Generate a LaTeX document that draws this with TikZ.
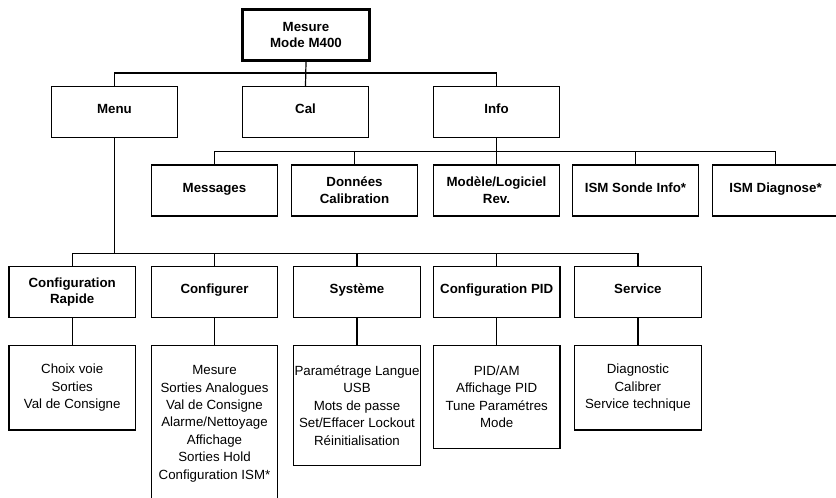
\documentclass[tikz,border=0pt]{standalone}
\usepackage{fontspec}
\setmainfont{Liberation Sans}
\begin{document}
\begin{tikzpicture}[x=1pt,y=-1pt,
  box/.style={draw=black, line width=1.2pt, minimum width=126.5pt, minimum height=51pt, inner sep=0pt, align=center, font=\fontsize{13.3}{16.7}\selectfont\bfseries},
  one/.style={text height=10pt, text depth=6.5pt},
  topbox/.style={box, line width=3pt, minimum width=126.7pt},
  sub/.style={draw=black, line width=1.2pt, minimum width=126.5pt, inner sep=0pt, anchor=north, align=center, font=\fontsize{13.3}{17.4}\selectfont},
  conn/.style={draw=black, line width=1.2pt}]
\useasboundingbox (0,0) rectangle (836,498);
% level 1
\node[topbox] (top) at (306,35) {Mesure\\Mode M400};
% level 2
\node[box,one] (menu) at (114.5,112) {Menu};
\node[box,one] (cal)  at (305.5,112) {Cal};
\node[box,one] (info) at (496.5,112) {Info};
% level 3
\node[box,one] (msg)   at (214.5,190.5) {Messages};
\node[box]     (don)   at (354.5,190.5) {Données\\Calibration};
\node[box]     (mod)   at (496.5,190.5) {Modèle/Logiciel\\Rev.};
\node[box,one] (sonde) at (635.5,190.5) {ISM Sonde Info*};
\node[box,one] (diag)  at (775.5,190.5) {ISM Diagnose*};
% level 4
\node[box]     (cr)   at (72.2,292) {Configuration\\Rapide};
\node[box,one] (conf) at (214.5,292) {Configurer};
\node[box,one] (sys)  at (357,292) {Système};
\node[box,one] (pid)  at (496.7,292) {Configuration PID};
\node[box,one] (serv) at (637.9,292) {Service};
% level 5
\node[sub, minimum height=84.8pt]  (cr5)   at (72.2,344.6) {Choix voie\\Sorties\\Val de Consigne};
\node[sub, minimum height=156.8pt] (conf5) at (214.5,344.6) {Mesure\\Sorties Analogues\\Val de Consigne\\Alarme/Nettoyage\\Affichage\\Sorties Hold\\Configuration ISM*};
\node[sub, minimum height=120.4pt] (sys5)  at (357,344.6) {Paramétrage Langue\\USB\\Mots de passe\\Set/Effacer Lockout\\Réinitialisation};
\node[sub, minimum height=103pt]   (pid5)  at (496.7,344.6) {PID/AM\\Affichage PID\\Tune Paramétres\\Mode};
\node[sub, minimum height=84.8pt]  (serv5) at (637.9,344.6) {Diagnostic\\Calibrer\\Service technique};
% buses
\coordinate (b1) at (306,73);
\coordinate (b2) at (496.5,151.7);
\coordinate (b3) at (114.5,253.3);
% connectors
\draw[conn] (top.south) -- (cal.north);
\draw[conn] (menu.north) |- (b1) -| (info.north);
\draw[conn] (info.south) -- (mod.north);
\draw[conn] (msg.north) |- (b2) -| (diag.north);
\draw[conn] (don.north) |- (b2);
\draw[conn] (sonde.north) |- (b2);
\draw[conn] (menu.south) -- (b3);
\draw[conn] (cr.north) |- (b3) -| (serv.north);
\draw[conn] (conf.north) |- (b3);
\draw[conn] (sys.north) |- (b3);
\draw[conn] (pid.north) |- (b3);
\draw[conn] (cr.south) -- (cr5.north);
\draw[conn] (conf.south) -- (conf5.north);
\draw[conn] (sys.south) -- (sys5.north);
\draw[conn] (pid.south) -- (pid5.north);
\draw[conn] (serv.south) -- (serv5.north);
\end{tikzpicture}
\end{document}
